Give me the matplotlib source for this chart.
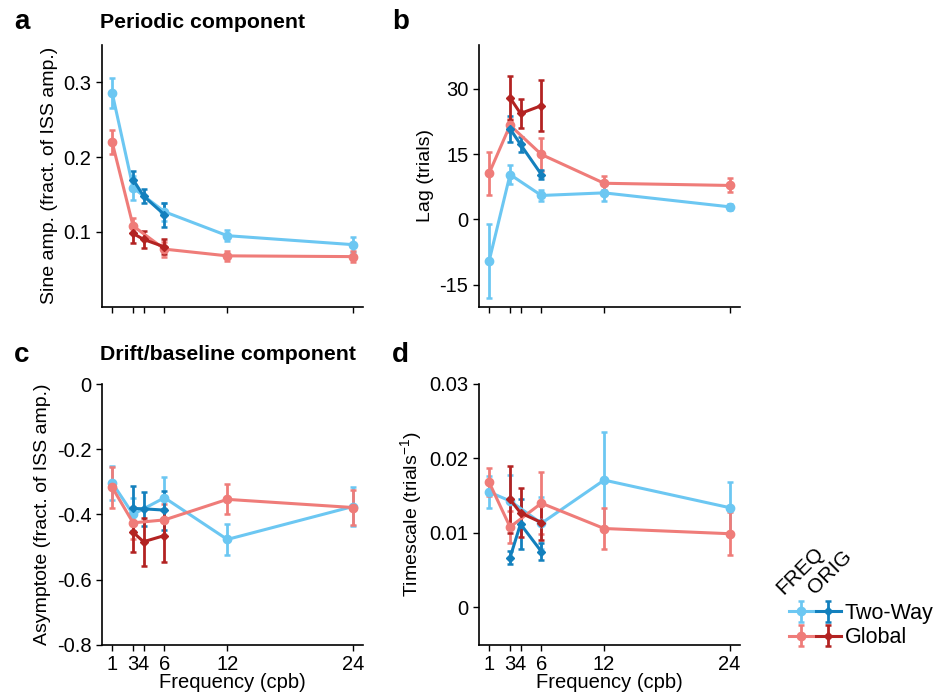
import numpy as np
import matplotlib
matplotlib.use('Agg')
import matplotlib.pyplot as plt
from matplotlib.legend_handler import HandlerTuple

plt.rcParams['font.family'] = ['Liberation Sans', 'DejaVu Sans']
plt.rcParams['axes.unicode_minus'] = False
plt.rcParams['mathtext.default'] = 'regular'

# colours
col_freq_tw = '#6cc7f2'
col_orig_tw = '#1380bd'
col_freq_gl = '#ef7c79'
col_orig_gl = '#b32322'

x_freq = [1, 3, 6, 12, 24]
x_orig = [3, 4, 6]
xticks = [1, 3, 4, 6, 12, 24]

# a: sine amplitude
a_freq_tw = [0.286, 0.159, 0.127, 0.095, 0.083]
a_freq_tw_err = [0.020, 0.016, 0.012, 0.007, 0.010]
a_freq_gl = [0.220, 0.108, 0.077, 0.068, 0.067]
a_freq_gl_err = [0.016, 0.010, 0.010, 0.007, 0.007]
a_orig_tw = [0.170, 0.148, 0.123]
a_orig_tw_err = [0.012, 0.009, 0.016]
a_orig_gl = [0.098, 0.090, 0.080]
a_orig_gl_err = [0.013, 0.011, 0.010]

# b: lag
b_freq_tw = [-9.5, 10.3, 5.5, 6.1, 2.9]
b_freq_tw_err = [8.5, 2.1, 1.2, 1.8, 0.7]
b_freq_gl = [10.6, 21.6, 14.9, 8.3, 7.8]
b_freq_gl_err = [4.9, 1.5, 3.7, 1.6, 1.6]
b_orig_tw = [20.8, 17.2, 10.3]
b_orig_tw_err = [3.0, 1.8, 1.1]
b_orig_gl = [27.9, 24.3, 26.1]
b_orig_gl_err = [5.1, 3.3, 5.8]

# c: asymptote
c_freq_tw = [-0.303, -0.400, -0.349, -0.477, -0.376]
c_freq_tw_err = [0.052, 0.050, 0.065, 0.047, 0.060]
c_freq_gl = [-0.317, -0.426, -0.417, -0.354, -0.379]
c_freq_gl_err = [0.062, 0.050, 0.050, 0.046, 0.054]
c_orig_tw = [-0.382, -0.383, -0.387]
c_orig_tw_err = [0.068, 0.053, 0.060]
c_orig_gl = [-0.455, -0.484, -0.465]
c_orig_gl_err = [0.062, 0.074, 0.082]

# d: timescale
d_freq_tw = [0.0155, 0.0143, 0.0113, 0.0171, 0.0134]
d_freq_tw_err = [0.0021, 0.0035, 0.0035, 0.0064, 0.0035]
d_freq_gl = [0.0168, 0.0108, 0.0140, 0.0106, 0.0099]
d_freq_gl_err = [0.0019, 0.0022, 0.0042, 0.0028, 0.0029]
d_orig_tw = [0.0067, 0.0112, 0.0075]
d_orig_tw_err = [0.0009, 0.0034, 0.0011]
d_orig_gl = [0.0145, 0.0127, 0.0114]
d_orig_gl_err = [0.0045, 0.0033, 0.0024]

fig = plt.figure(figsize=(9.4, 6.94), dpi=100)
W, H = 940, 694


def add_ax(x0, y0, x1, y1):
    return fig.add_axes([x0 / W, 1 - y1 / H, (x1 - x0) / W, (y1 - y0) / H])


axa = add_ax(101.7, 45, 363.3, 306.7)
axb = add_ax(478.7, 45, 740, 306.7)
axc = add_ax(101.7, 384, 363.3, 644.7)
axd = add_ax(478.7, 384, 740, 644.7)


def draw(ax, ftw, ftwe, fgl, fgle, otw, otwe, ogl, ogle):
    kw = dict(lw=2.2, elinewidth=2.0, capsize=2.5, capthick=1.8)
    h1 = ax.errorbar(x_freq, ftw, yerr=ftwe, color=col_freq_tw, marker='o', ms=6, **kw)
    h2 = ax.errorbar(x_freq, fgl, yerr=fgle, color=col_freq_gl, marker='o', ms=6, **kw)
    h3 = ax.errorbar(x_orig, otw, yerr=otwe, color=col_orig_tw, marker='D', ms=4.5, **kw)
    h4 = ax.errorbar(x_orig, ogl, yerr=ogle, color=col_orig_gl, marker='D', ms=4.5, **kw)
    return h1, h2, h3, h4


draw(axa, a_freq_tw, a_freq_tw_err, a_freq_gl, a_freq_gl_err,
     a_orig_tw, a_orig_tw_err, a_orig_gl, a_orig_gl_err)
draw(axb, b_freq_tw, b_freq_tw_err, b_freq_gl, b_freq_gl_err,
     b_orig_tw, b_orig_tw_err, b_orig_gl, b_orig_gl_err)
draw(axc, c_freq_tw, c_freq_tw_err, c_freq_gl, c_freq_gl_err,
     c_orig_tw, c_orig_tw_err, c_orig_gl, c_orig_gl_err)
hs = draw(axd, d_freq_tw, d_freq_tw_err, d_freq_gl, d_freq_gl_err,
          d_orig_tw, d_orig_tw_err, d_orig_gl, d_orig_gl_err)

for ax in [axa, axb, axc, axd]:
    ax.spines['top'].set_visible(False)
    ax.spines['right'].set_visible(False)
    ax.spines['left'].set_linewidth(1.2)
    ax.spines['bottom'].set_linewidth(1.2)
    ax.set_xlim(0, 25)
    ax.set_xticks(xticks)
    ax.tick_params(labelsize=14.5, length=4, width=1)

axa.set_xticklabels([])
axb.set_xticklabels([])
axc.set_xticklabels([str(t) for t in xticks])
axd.set_xticklabels([str(t) for t in xticks])

axa.set_ylim(0, 0.35)
axa.set_yticks([0.1, 0.2, 0.3])
axa.set_yticklabels(['0.1', '0.2', '0.3'])
axb.set_ylim(-20, 40)
axb.set_yticks([-15, 0, 15, 30])
axc.set_ylim(-0.8, 0)
axc.set_yticks([-0.8, -0.6, -0.4, -0.2, 0])
axc.set_yticklabels(['-0.8', '-0.6', '-0.4', '-0.2', '0'])
axd.set_ylim(-0.005, 0.03)
axd.set_yticks([0, 0.01, 0.02, 0.03])
axd.set_yticklabels(['0', '0.01', '0.02', '0.03'])

axa.set_ylabel('Sine amp. (fract. of ISS amp.)', fontsize=14)
axb.set_ylabel('Lag (trials)', fontsize=14)
axc.set_ylabel('Asymptote (fract. of ISS amp.)', fontsize=14)
axd.set_ylabel('Timescale (trials$^{-1}$)', fontsize=14)
axc.set_xlabel('Frequency (cpb)', fontsize=14.5, labelpad=-1)
axd.set_xlabel('Frequency (cpb)', fontsize=14.5, labelpad=-1)

# panel letters and titles
for lab, px, py in [('a', 14, 22), ('b', 392, 22), ('c', 14, 355), ('d', 392, 355)]:
    fig.text(px / W, 1 - py / H, lab, fontsize=20, fontweight='bold', va='center')
fig.text(100 / W, 1 - 22 / H, 'Periodic component', fontsize=15.3, fontweight='bold', va='center')
fig.text(100 / W, 1 - 355 / H, 'Drift/baseline component', fontsize=15.3, fontweight='bold', va='center')

# legend
leg = fig.legend([(hs[0], hs[2]), (hs[1], hs[3])], ['Two-Way', 'Global'],
                 handler_map={tuple: HandlerTuple(ndivide=None, pad=0.1)},
                 loc='upper left', bbox_to_anchor=(776 / W, 1 - 590 / H),
                 frameon=False, fontsize=15.5, handlelength=2.4, handletextpad=0.2,
                 labelspacing=0.15, borderpad=0.1)
fig.text(786 / W, 1 - 598 / H, 'FREQ', fontsize=15, rotation=45, ha='left', va='bottom',
         rotation_mode='anchor')
fig.text(818 / W, 1 - 598 / H, 'ORIG', fontsize=15, rotation=45, ha='left', va='bottom',
         rotation_mode='anchor')

fig.savefig('out.png', dpi=100)
